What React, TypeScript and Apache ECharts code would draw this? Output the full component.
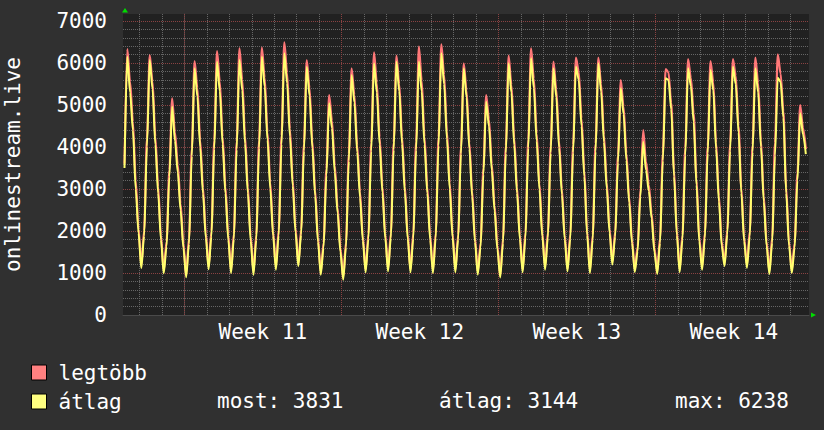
import React, { useEffect, useRef } from 'react';
import * as echarts from 'echarts';

// ---- data ----
const seriesNames = ['legtöbb', 'átlag'];

// 3-hour samples; first row starts at 08:00 of day -3 (relative to Monday of week 11),
// following rows at 02,05,08,11,14,17,20,23 h; last row ends at 17:00.
const avgRows: number[][] = [
  [3500, 6150, 5300, 4400, 3000, 1950],
  [1111, 1880, 4010, 6071, 5380, 4060, 2900, 1790],
  [992, 1627, 3293, 4960, 4150, 3400, 2500, 1600],
  [900, 1690, 3780, 5873, 5200, 3990, 2890, 1840],
  [1090, 1865, 3950, 6032, 5330, 4070, 2900, 1800],
  [1000, 1805, 3940, 6071, 5350, 4080, 2900, 1770],
  [960, 1785, 3970, 6150, 5440, 4170, 3000, 1885],
  [1080, 1895, 4060, 6230, 5520, 4250, 3080, 1965],
  [1160, 1910, 3910, 5913, 5220, 3980, 2840, 1745],
  [960, 1605, 3320, 5040, 4450, 3400, 2430, 1505],
  [840, 1615, 3665, 5714, 5060, 3880, 2800, 1770],
  [1020, 1810, 3900, 5992, 5300, 4060, 2920, 1825],
  [1040, 1830, 3930, 6032, 5330, 4075, 2920, 1820],
  [1020, 1820, 3925, 6032, 5325, 4065, 2905, 1800],
  [1000, 1830, 4030, 6230, 5500, 4195, 3000, 1850],
  [1020, 1795, 3835, 5873, 5185, 3955, 2820, 1740],
  [960, 1610, 3345, 5079, 4490, 3445, 2480, 1560],
  [895, 1705, 3850, 5992, 5295, 4050, 2905, 1810],
  [1020, 1830, 3970, 6111, 5405, 4145, 2985, 1875],
  [1080, 1840, 3855, 5873, 5195, 3985, 2870, 1805],
  [1040, 1815, 3865, 5913, 5600, 4500, 3300, 1900],
  [1000, 1790, 3890, 5992, 5320, 4120, 3015, 1960],
  [1200, 1865, 3630, 5397, 4785, 3690, 2680, 1715],
  [1020, 1515, 2820, 4127, 3450, 2950, 2300, 1500],
  [975, 1715, 3675, 5635, 5600, 4900, 3300, 1900],
  [1020, 1790, 3800, 5873, 5450, 4600, 3100, 1750],
  [1075, 1830, 3850, 5833, 5350, 3950, 2700, 1650],
  [1160, 1915, 3910, 5913, 5500, 4350, 2900, 1750],
  [1120, 1870, 3875, 5873, 5300, 4000, 2700, 1650],
  [975, 1720, 3800, 5651, 5550, 4700, 2900, 1650],
  [1000, 1602, 3202, 4802, 4300, 3831],
];

const maxRows: number[][] = [
  [3600, 6333, 5550, 4600, 3200, 2050],
  [1180, 2000, 4200, 6190, 5560, 4250, 3050, 1900],
  [1050, 1750, 3450, 5159, 4350, 3580, 2650, 1700],
  [960, 1820, 3960, 6048, 5400, 4160, 3030, 1950],
  [1150, 1990, 4150, 6286, 5560, 4240, 3050, 1910],
  [1060, 1930, 4130, 6349, 5600, 4260, 3040, 1880],
  [1030, 1910, 4160, 6365, 5650, 4350, 3150, 1990],
  [1150, 2020, 4270, 6492, 5760, 4430, 3220, 2070],
  [1220, 2030, 4080, 6071, 5400, 4140, 2970, 1850],
  [1020, 1720, 3480, 5238, 4630, 3560, 2560, 1600],
  [900, 1730, 3830, 5873, 5240, 4040, 2930, 1870],
  [1080, 1930, 4100, 6254, 5520, 4230, 3060, 1930],
  [1100, 1950, 4110, 6175, 5500, 4240, 3060, 1920],
  [1080, 1950, 4130, 6389, 5580, 4240, 3050, 1900],
  [1060, 1950, 4230, 6444, 5720, 4370, 3140, 1950],
  [1080, 1910, 3990, 5992, 5340, 4100, 2950, 1840],
  [1020, 1720, 3500, 5238, 4660, 3590, 2600, 1650],
  [950, 1820, 4030, 6175, 5480, 4210, 3040, 1910],
  [1080, 1960, 4180, 6349, 5630, 4320, 3120, 1980],
  [1140, 1960, 4020, 6032, 5370, 4140, 3000, 1900],
  [1100, 1940, 4050, 6127, 5800, 4680, 3450, 2000],
  [1060, 1910, 4080, 6127, 5500, 4280, 3150, 2060],
  [1260, 1980, 3800, 5595, 4960, 3850, 2800, 1810],
  [1080, 1620, 3000, 4405, 3650, 3100, 2420, 1600],
  [1040, 1830, 3850, 5857, 5780, 5050, 3450, 2000],
  [1080, 1900, 3980, 6095, 5650, 4800, 3250, 1850],
  [1140, 1950, 4020, 6048, 5540, 4100, 2830, 1750],
  [1220, 2030, 4080, 6095, 5700, 4500, 3030, 1850],
  [1180, 1990, 4050, 6127, 5520, 4150, 2830, 1750],
  [1040, 1850, 4100, 6206, 5750, 4850, 3030, 1750],
  [1060, 1710, 3370, 5000, 4450, 3950],
];

const firstSampleDay = -3 + 8 / 24;
const sampleStepDays = 3 / 24;

const weekCenters = [3.5, 10.5, 17.5, 24.5];
const weekLabels = ['Week 11', 'Week 12', 'Week 13', 'Week 14'];
const weekStarts = [0, 7, 14, 21];
const dayTicks = [
  -2, -1, 0, 1, 2, 3, 4, 5, 6, 7, 8, 9, 10, 11, 12, 13, 14, 15, 16, 17, 18, 19, 20, 21,
  22, 23, 24, 25, 26, 27,
];
const yMajorStep = 1000;
const yMinorStep = 200;

const statLabels = ['most: 3831', 'átlag: 3144', 'max: 6238'];
const axisTitle = 'onlinestream.live';

// ---- layout / style ----
const MONO = '"DejaVu Sans Mono", monospace';
const X_MIN = -2.733;
const X_MAX = 27.85;
const Y_MAX = 7166.67;
const GRID_GRAY = '#666666';
const GRID_RED = '#8a4242';
const GRID_DASH = [1, 1];
const statX = [217, 439, 675];
const statY = 401;

function toPairs(rows: number[][]): [number, number][] {
  const flat = rows.flat();
  return flat.map((v, i) => [firstSampleDay + i * sampleStepDays, v]);
}

export default function App() {
  const ref = useRef<HTMLDivElement>(null);

  useEffect(() => {
    if (!ref.current) return;
    const chart = echarts.init(ref.current, undefined, { renderer: 'svg' });

    const dayGridData = dayTicks.map((d) => [d, weekStarts.includes(d) ? 2 : 1]);

    const option: any = {
      animation: false,
      backgroundColor: '#303030',
      textStyle: { fontFamily: MONO },
      grid: {
        left: 123,
        top: 14,
        right: 15,
        bottom: 115,
        show: true,
        backgroundColor: '#212121',
        borderWidth: 0,
        containLabel: false,
        outerBoundsMode: 'none',
      },
      xAxis: {
        type: 'value',
        min: X_MIN,
        max: X_MAX,
        splitLine: { show: false },
        axisLine: { show: true, lineStyle: { color: '#4a4a4a', width: 1 } },
        axisTick: { show: false },
        axisLabel: {
          customValues: weekCenters,
          formatter: (v: number) => {
            const i = weekCenters.indexOf(v);
            return i >= 0 ? weekLabels[i] : '';
          },
          color: '#ffffff',
          fontSize: 21,
          fontFamily: MONO,
          margin: 6,
        },
      },
      yAxis: {
        type: 'value',
        min: 0,
        max: Y_MAX,
        interval: yMinorStep,
        name: axisTitle,
        nameLocation: 'middle',
        nameGap: 100,
        nameRotate: 90,
        nameTextStyle: { color: '#ffffff', fontSize: 21, fontFamily: MONO },
        axisLine: { show: true, lineStyle: { color: '#4a4a4a', width: 1 } },
        axisTick: { show: false },
        axisLabel: {
          formatter: (v: number) => (Math.abs(v % yMajorStep) < 1e-6 ? String(v) : ''),
          color: '#ffffff',
          fontSize: 21,
          fontFamily: MONO,
          margin: 16,
        },
        splitLine: {
          show: true,
          showMaxLine: false,
          lineStyle: {
            color: [GRID_RED, GRID_GRAY, GRID_GRAY, GRID_GRAY, GRID_GRAY],
            type: GRID_DASH,
            width: 1,
          },
        },
      },
      legend: {
        orient: 'vertical',
        left: 31,
        top: 362,
        padding: 0,
        itemWidth: 15,
        itemHeight: 15,
        itemGap: 8,
        icon: 'rect',
        selectedMode: false,
        itemStyle: { borderColor: '#000000', borderWidth: 1 },
        textStyle: {
          color: '#ffffff',
          fontSize: 21,
          fontFamily: MONO,
          lineHeight: 15,
          padding: [0, 0, 0, 7],
        },
        data: [
          { name: seriesNames[0], itemStyle: { color: '#ff8080' } },
          { name: seriesNames[1], itemStyle: { color: '#ffff80' } },
        ],
      },
      series: [
        {
          type: 'custom',
          name: 'grid-days',
          silent: true,
          clip: false,
          z: 1,
          data: dayGridData,
          encode: { x: 0, y: 1 },
          renderItem: (_params: any, api: any) => {
            const d = api.value(0);
            const major = api.value(1) === 2;
            const p0 = api.coord([d, 0]);
            const p1 = api.coord([d, Y_MAX]);
            const x = Math.round(p0[0]) + 0.5;
            return {
              type: 'line',
              shape: { x1: x, y1: Math.round(p0[1]), x2: x, y2: Math.round(p1[1]) },
              style: {
                stroke: major ? GRID_RED : GRID_GRAY,
                fill: null,
                lineWidth: 1,
                lineDash: GRID_DASH,
              },
            };
          },
        },
        {
          name: seriesNames[0],
          type: 'line',
          data: toPairs(maxRows),
          symbol: 'none',
          showSymbol: false,
          smooth: 0.3,
          smoothMonotone: 'x',
          color: '#ff7f7f',
          lineStyle: { color: '#ff7878', width: 2.2 },
          z: 10,
          silent: true,
        },
        {
          name: seriesNames[1],
          type: 'line',
          data: toPairs(avgRows),
          symbol: 'none',
          showSymbol: false,
          smooth: 0.3,
          smoothMonotone: 'x',
          color: '#ffff73',
          lineStyle: { color: '#ffff6e', width: 2 },
          z: 11,
          silent: true,
        },
      ],
      graphic: [
        ...statLabels.map((t, i) => ({
          type: 'text',
          x: statX[i],
          y: statY,
          style: {
            text: t,
            fill: '#ffffff',
            fontSize: 21,
            fontFamily: MONO,
            verticalAlign: 'middle',
          },
        })),
        {
          type: 'polygon',
          shape: { points: [[122, 12.5], [128, 12.5], [125, 8]] },
          style: { fill: '#00dd00' },
        },
        {
          type: 'polygon',
          shape: { points: [[811, 312.5], [811, 317.5], [816, 315]] },
          style: { fill: '#00dd00' },
        },
      ],
    };

    chart.setOption(option);
    return () => chart.dispose();
  }, []);

  return (
    <div
      ref={ref}
      style={{ position: 'fixed', left: 0, top: 0, width: 824, height: 430 }}
    />
  );
}
